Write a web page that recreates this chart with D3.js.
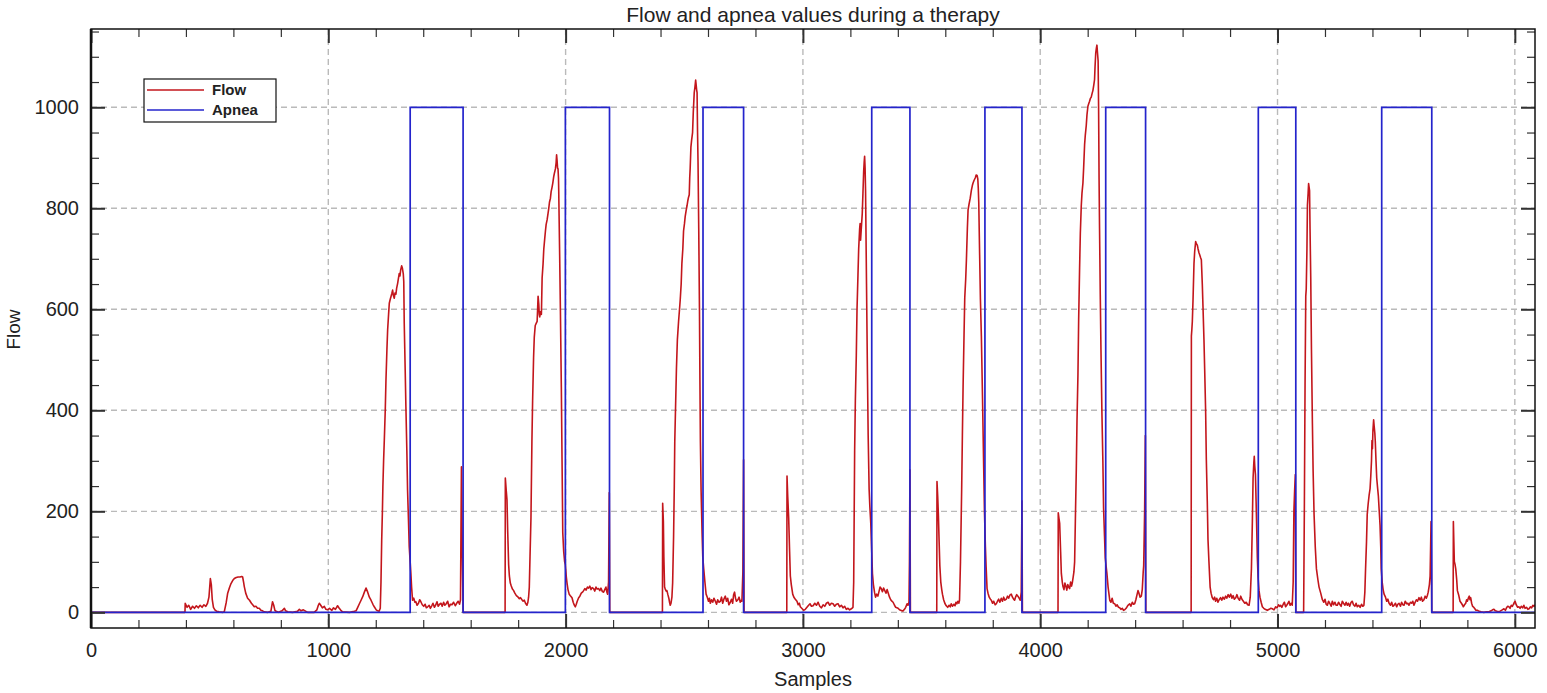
<!DOCTYPE html>
<html>
<head>
<meta charset="utf-8">
<script src="https://cdn.jsdelivr.net/npm/d3@7/dist/d3.min.js"></script>
<style>
  html, body { margin: 0; padding: 0; background: #fff; }
  svg { display: block; }
  text { font-family: "Liberation Sans", Arial, sans-serif; fill: #222; }
</style>
</head>
<body>
<svg id="chart" width="1547" height="693"></svg>
<script>
// ---- data ----------------------------------------------------------------
const chartTitle = "Flow and apnea values during a therapy";
const xLabel = "Samples";
const yLabel = "Flow";
const legendLabels = ["Flow", "Apnea"];
const xMajorTicks = [0, 1000, 2000, 3000, 4000, 5000, 6000];
const yMajorTicks = [0, 200, 400, 600, 800, 1000];

// apnea flag: corner points of the square wave [sample, value]
const apneaSeries = [
  [0,0],[1345,0],[1345,1000],[1568,1000],[1568,0],
  [1999,0],[1999,1000],[2185,1000],[2185,0],
  [2579,0],[2579,1000],[2750,1000],[2750,0],
  [3290,0],[3290,1000],[3451,1000],[3451,0],
  [3767,0],[3767,1000],[3923,1000],[3923,0],
  [4276,0],[4276,1000],[4444,1000],[4444,0],
  [4919,0],[4919,1000],[5077,1000],[5077,0],
  [5439,0],[5439,1000],[5650,1000],[5650,0],
  [6085,0]
];

// measured flow [sample, flow]
const flowSeries = [
  [0,0],[396,0],[397,18],[405,10],[412,14],[420,6],[428,12],[436,8],[444,13],[452,9],[460,14],[468,10],[476,15],[484,12],[491,18],[497,30],[503,67],[507,55],[511,25],[516,10],[522,5],[530,2],[540,1],[556,0],[562,2],[570,20],[576,38],[583,48],[590,57],[597,63],[604,67],[612,69],[620,70],[628,70],[635,71],[639,70],[643,60],[646,51],[652,38],[660,28],[668,24],[676,18],[683,14],[688,11],[695,12],[702,8],[709,8],[716,4],[723,3],[730,1],[745,0],[758,2],[765,21],[770,14],[775,4],[780,2],[790,0],[805,3],[815,8],[820,3],[829,1],[850,0],[870,2],[878,6],[885,3],[895,5],[913,0],[940,0],[952,5],[958,14],[962,18],[968,14],[975,9],[983,12],[990,6],[997,5],[1005,8],[1015,4],[1022,9],[1030,6],[1039,13],[1046,8],[1053,4],[1060,1],[1090,0],[1110,2],[1117,3],[1124,10],[1131,17],[1138,24],[1145,31],[1152,40],[1159,48],[1166,40],[1173,30],[1180,24],[1188,16],[1195,10],[1202,5],[1208,3],[1214,2],[1219,8],[1222,60],[1225,143],[1228,200],[1230,249],[1233,300],[1236,341],[1240,400],[1243,460],[1247,520],[1250,559],[1254,590],[1257,612],[1261,620],[1264,625],[1268,632],[1271,638],[1274,628],[1278,622],[1281,632],[1285,630],[1288,642],[1292,651],[1295,660],[1299,671],[1302,666],[1305,678],[1309,686],[1312,682],[1316,670],[1318,655],[1320,572],[1324,480],[1327,407],[1331,320],[1334,242],[1338,180],[1341,130],[1345,100],[1348,77],[1351,50],[1355,24],[1360,28],[1365,20],[1369,21],[1374,14],[1380,18],[1385,25],[1390,21],[1396,15],[1402,12],[1408,16],[1413,9],[1419,11],[1425,14],[1430,8],[1436,13],[1441,18],[1447,10],[1452,14],[1458,21],[1463,12],[1469,16],[1475,18],[1480,12],[1486,20],[1491,14],[1497,17],[1503,22],[1509,11],[1515,16],[1521,15],[1528,20],[1535,13],[1541,18],[1547,22],[1553,16],[1557,25],[1561,288],[1564,150],[1568,0],
  [1745,0],[1746,266],[1750,240],[1753,223],[1756,160],[1760,94],[1763,72],[1767,58],[1771,52],[1776,46],[1781,43],[1786,38],[1790,35],[1795,32],[1800,30],[1805,27],[1810,29],[1816,25],[1821,22],[1826,24],[1831,18],[1837,14],[1841,20],[1844,30],[1847,50],[1850,110],[1854,187],[1858,338],[1861,420],[1865,504],[1868,545],[1872,568],[1876,572],[1880,576],[1882,600],[1884,626],[1887,610],[1889,590],[1891,585],[1894,595],[1898,590],[1901,662],[1905,690],[1908,719],[1912,740],[1915,755],[1918,768],[1922,777],[1926,790],[1929,800],[1932,812],[1936,820],[1939,833],[1943,842],[1946,850],[1950,863],[1953,870],[1957,878],[1960,890],[1962,906],[1964,895],[1966,880],[1968,878],[1970,860],[1971,835],[1973,770],[1975,705],[1978,600],[1982,446],[1985,300],[1988,158],[1992,120],[1996,100],[1999,94],[2003,70],[2006,58],[2010,45],[2015,36],[2020,33],[2027,29],[2032,20],[2036,15],[2041,11],[2045,16],[2049,22],[2055,29],[2060,32],[2066,38],[2071,40],[2076,43],[2081,47],[2086,44],[2092,50],[2097,48],[2102,52],[2107,45],[2112,49],[2118,47],[2123,42],[2128,50],[2133,46],[2139,47],[2144,43],[2149,48],[2155,41],[2160,40],[2165,45],[2170,50],[2174,40],[2177,36],[2181,60],[2184,237],[2186,0],
  [2408,0],[2409,216],[2412,180],[2414,110],[2417,50],[2420,46],[2424,42],[2427,43],[2431,35],[2435,28],[2438,20],[2441,14],[2444,18],[2448,30],[2451,58],[2455,150],[2458,250],[2460,338],[2464,420],[2467,482],[2471,540],[2476,576],[2480,600],[2483,619],[2487,650],[2490,691],[2494,720],[2497,755],[2501,770],[2504,784],[2508,796],[2512,806],[2515,815],[2518,822],[2521,827],[2523,860],[2525,880],[2528,921],[2531,935],[2535,950],[2538,990],[2542,1029],[2545,1040],[2548,1054],[2550,1045],[2552,1035],[2554,1029],[2556,950],[2558,892],[2561,760],[2564,604],[2566,460],[2568,338],[2571,240],[2575,158],[2578,110],[2582,86],[2587,60],[2592,36],[2597,30],[2602,22],[2606,28],[2610,18],[2615,25],[2620,20],[2625,28],[2631,22],[2636,16],[2641,25],[2646,20],[2652,22],[2657,30],[2662,18],[2667,26],[2673,32],[2678,22],[2683,28],[2688,15],[2694,20],[2699,26],[2704,18],[2708,35],[2712,40],[2716,28],[2720,22],[2726,25],[2731,30],[2736,20],[2740,24],[2743,22],[2747,80],[2750,302],[2752,0],
  [2932,0],[2933,270],[2936,230],[2940,187],[2944,120],[2947,72],[2951,55],[2957,36],[2962,30],[2968,26],[2975,22],[2980,15],[2985,18],[2989,11],[2995,8],[3003,4],[3010,6],[3017,10],[3024,14],[3030,17],[3036,12],[3043,13],[3050,18],[3057,14],[3064,20],[3071,12],[3078,9],[3085,15],[3092,12],[3099,18],[3106,20],[3113,14],[3120,18],[3127,17],[3134,12],[3141,16],[3148,17],[3155,11],[3162,14],[3169,9],[3176,12],[3183,6],[3190,8],[3197,5],[3204,7],[3211,10],[3214,60],[3218,320],[3221,420],[3225,509],[3228,600],[3232,668],[3235,720],[3239,759],[3241,770],[3243,737],[3246,760],[3250,789],[3253,830],[3256,873],[3258,890],[3260,903],[3262,880],[3264,835],[3268,650],[3272,471],[3275,350],[3279,244],[3282,210],[3286,176],[3290,120],[3293,77],[3297,55],[3302,39],[3306,30],[3311,36],[3316,32],[3320,40],[3325,50],[3330,47],[3335,41],[3340,48],[3345,43],[3350,38],[3355,45],[3359,39],[3365,30],[3370,25],[3375,22],[3380,20],[3386,14],[3391,10],[3396,9],[3401,8],[3407,5],[3412,4],[3417,3],[3422,3],[3428,6],[3433,10],[3439,17],[3443,14],[3447,20],[3449,100],[3451,282],[3453,0],
  [3564,0],[3565,259],[3568,230],[3571,191],[3574,140],[3577,92],[3581,60],[3585,45],[3588,36],[3593,25],[3598,18],[3604,13],[3610,10],[3616,14],[3621,11],[3625,17],[3630,12],[3636,16],[3641,13],[3645,20],[3649,17],[3653,22],[3657,18],[3660,24],[3664,100],[3669,244],[3672,350],[3675,448],[3679,550],[3682,623],[3686,660],[3689,698],[3693,760],[3696,797],[3700,808],[3705,820],[3710,836],[3714,845],[3717,850],[3721,855],[3724,858],[3727,861],[3730,866],[3734,865],[3737,858],[3739,840],[3741,812],[3745,700],[3748,620],[3752,547],[3757,420],[3762,282],[3765,200],[3769,130],[3772,90],[3776,47],[3780,38],[3785,30],[3790,26],[3794,24],[3799,18],[3804,22],[3810,15],[3815,17],[3820,22],[3825,26],[3830,20],[3836,28],[3841,22],[3846,30],[3851,24],[3857,26],[3862,32],[3867,28],[3872,34],[3878,36],[3883,30],[3888,26],[3892,24],[3896,30],[3901,35],[3906,32],[3911,28],[3916,24],[3920,40],[3923,221],[3925,0],
  [4075,0],[4076,197],[4079,186],[4082,176],[4086,120],[4089,77],[4093,60],[4096,51],[4100,45],[4104,58],[4108,52],[4112,44],[4116,55],[4120,50],[4124,47],[4128,60],[4132,52],[4135,58],[4139,70],[4142,80],[4145,100],[4148,180],[4152,282],[4155,380],[4159,471],[4162,580],[4166,683],[4169,750],[4173,805],[4176,830],[4180,850],[4183,880],[4187,926],[4190,945],[4194,964],[4197,985],[4201,1002],[4205,1008],[4208,1012],[4211,1017],[4215,1020],[4219,1028],[4222,1033],[4226,1045],[4229,1055],[4231,1080],[4234,1108],[4237,1118],[4239,1123],[4241,1110],[4244,1092],[4246,1000],[4248,858],[4250,760],[4253,630],[4256,520],[4260,395],[4264,300],[4267,206],[4271,150],[4274,108],[4278,90],[4281,77],[4286,50],[4293,24],[4298,20],[4303,28],[4308,18],[4314,17],[4319,12],[4324,15],[4330,10],[4335,9],[4340,6],[4346,8],[4351,4],[4356,5],[4362,8],[4367,12],[4372,15],[4377,17],[4382,12],[4388,20],[4393,16],[4398,17],[4403,25],[4408,35],[4412,43],[4416,38],[4421,30],[4426,32],[4430,45],[4434,80],[4436,92],[4440,200],[4443,350],[4445,0],
  [4636,0],[4637,547],[4639,560],[4641,576],[4644,620],[4648,691],[4651,715],[4655,734],[4658,730],[4662,727],[4665,720],[4669,712],[4672,708],[4676,702],[4679,698],[4683,650],[4686,604],[4690,540],[4693,482],[4697,400],[4700,302],[4704,220],[4707,144],[4711,100],[4716,50],[4720,38],[4725,29],[4730,25],[4735,30],[4739,22],[4744,28],[4749,20],[4754,25],[4760,29],[4765,24],[4770,30],[4776,26],[4781,32],[4786,28],[4792,35],[4797,30],[4803,36],[4808,28],[4813,33],[4818,26],[4824,29],[4829,35],[4834,28],[4840,24],[4845,32],[4850,26],[4856,22],[4862,18],[4868,20],[4874,15],[4880,14],[4885,30],[4890,86],[4894,180],[4897,266],[4900,295],[4902,309],[4904,290],[4907,273],[4911,194],[4915,108],[4918,70],[4922,43],[4926,30],[4931,20],[4936,11],[4942,8],[4948,6],[4957,4],[4965,6],[4972,8],[4978,7],[4985,5],[4992,11],[4998,9],[5004,15],[5009,12],[5013,14],[5018,10],[5024,16],[5029,20],[5034,11],[5040,15],[5044,18],[5048,22],[5053,14],[5058,18],[5062,14],[5066,60],[5069,201],[5072,240],[5075,273],[5077,0],
  [5110,0],[5113,200],[5116,450],[5119,626],[5121,640],[5124,720],[5126,806],[5129,830],[5131,849],[5133,842],[5135,835],[5137,760],[5140,662],[5143,520],[5147,374],[5150,280],[5154,194],[5159,130],[5164,86],[5170,65],[5175,50],[5182,38],[5189,25],[5195,20],[5200,26],[5205,16],[5210,14],[5215,22],[5220,18],[5226,12],[5231,22],[5236,15],[5242,20],[5247,14],[5252,14],[5257,20],[5262,16],[5268,12],[5273,22],[5278,18],[5284,14],[5289,20],[5294,14],[5299,18],[5304,12],[5310,20],[5315,22],[5320,15],[5326,12],[5331,18],[5336,11],[5342,14],[5348,10],[5354,16],[5359,12],[5364,14],[5368,40],[5371,86],[5375,140],[5378,194],[5382,215],[5386,232],[5390,245],[5393,270],[5396,300],[5398,340],[5400,324],[5402,360],[5405,381],[5407,370],[5410,355],[5412,338],[5415,300],[5418,266],[5422,245],[5425,230],[5428,205],[5432,173],[5435,130],[5437,86],[5441,60],[5445,45],[5449,36],[5455,30],[5460,22],[5465,26],[5470,18],[5476,14],[5481,20],[5486,12],[5491,14],[5497,18],[5502,11],[5507,16],[5512,18],[5518,12],[5523,20],[5528,15],[5533,14],[5538,22],[5544,17],[5549,18],[5554,14],[5560,20],[5565,18],[5570,22],[5575,14],[5580,20],[5585,25],[5590,22],[5596,29],[5601,24],[5606,30],[5611,22],[5617,25],[5622,32],[5627,28],[5631,33],[5635,40],[5640,55],[5643,72],[5647,180],[5650,0],
  [5740,0],[5741,180],[5743,140],[5745,101],[5748,95],[5751,86],[5755,65],[5758,43],[5763,35],[5769,22],[5775,18],[5780,14],[5783,11],[5788,15],[5793,18],[5797,25],[5800,22],[5804,28],[5808,32],[5811,25],[5814,29],[5818,18],[5822,12],[5825,11],[5830,8],[5836,4],[5842,4],[5850,2],[5858,1],[5870,0],[5880,1],[5891,1],[5900,3],[5906,5],[5912,6],[5918,3],[5925,2],[5933,1],[5940,3],[5947,5],[5954,7],[5960,4],[5965,9],[5970,12],[5975,11],[5980,8],[5985,14],[5990,12],[5996,18],[6001,22],[6006,15],[6012,10],[6017,11],[6022,8],[6027,12],[6033,9],[6038,14],[6043,8],[6049,10],[6055,6],[6060,7],[6066,11],[6071,9],[6076,14],[6081,12],[6085,15]
];

// ---- layout --------------------------------------------------------------
const plot = { left: 91, right: 1535, top: 29, bottom: 628 };
const xDomain = [0, 6085];
const yDomain = [-31, 1155];
const flowColor = "#c3161c";
const apneaColor = "#2424cc";

const svg = d3.select("#chart");
const x = d3.scaleLinear().domain(xDomain).range([plot.left, plot.right]);
const y = d3.scaleLinear().domain(yDomain).range([plot.bottom, plot.top]);

svg.append("defs").append("clipPath").attr("id", "plot-clip")
  .append("rect")
  .attr("x", plot.left).attr("y", plot.top)
  .attr("width", plot.right - plot.left).attr("height", plot.bottom - plot.top);

// dashed grid
const grid = svg.append("g").attr("stroke", "#bababa").attr("stroke-width", 1.4)
  .attr("stroke-dasharray", "6,4").attr("fill", "none");
grid.selectAll("line.v").data(xMajorTicks.filter(d => d > 0)).join("line")
  .attr("class", "v")
  .attr("x1", d => x(d)).attr("x2", d => x(d))
  .attr("y1", plot.top).attr("y2", plot.bottom);
grid.selectAll("line.h").data(yMajorTicks).join("line")
  .attr("class", "h")
  .attr("y1", d => y(d)).attr("y2", d => y(d))
  .attr("x1", plot.left).attr("x2", plot.right);

// series
const line = d3.line().x(d => x(d[0])).y(d => y(d[1]));
const series = svg.append("g").attr("clip-path", "url(#plot-clip)");
series.append("path").datum(flowSeries)
  .attr("fill", "none").attr("stroke", flowColor).attr("stroke-width", 1.6)
  .attr("stroke-linejoin", "round").attr("d", line);
series.append("path").datum(apneaSeries)
  .attr("fill", "none").attr("stroke", apneaColor).attr("stroke-width", 1.7)
  .attr("d", line);

// axes with inward ticks on all four sides
const xMinor = d3.range(0, 6001, 200).filter(d => d % 1000 !== 0);
const yMinor = d3.range(0, 1151, 50).filter(d => d % 200 !== 0);

function styleAxis(g) {
  g.select(".domain").remove();
  g.selectAll(".tick line").attr("stroke", "#333");
}

function addAxis(axisFn, scale, transform, major, minor, majorLen, minorLen, labels, pad) {
  svg.append("g").attr("transform", transform)
    .call(axisFn(scale).tickValues(minor).tickSize(-minorLen).tickFormat(""))
    .call(styleAxis)
    .call(g => g.selectAll(".tick line").attr("stroke-width", 1.2));
  const g = svg.append("g").attr("transform", transform)
    .call(axisFn(scale).tickValues(major).tickSize(-majorLen).tickPadding(pad)
      .tickFormat(labels ? d3.format("d") : ""))
    .call(styleAxis)
    .call(g => g.selectAll(".tick line").attr("stroke-width", 2));
  g.selectAll("text").style("font-size", "20px").attr("fill", "#222")
    .style("font-family", '"Liberation Sans", Arial, sans-serif');
  return g;
}

addAxis(d3.axisBottom, x, `translate(0,${plot.bottom})`, xMajorTicks, xMinor, 14, 8, true, 15);
addAxis(d3.axisTop, x, `translate(0,${plot.top})`, xMajorTicks, xMinor, 14, 8, false, 0);
addAxis(d3.axisLeft, y, `translate(${plot.left},0)`, yMajorTicks, yMinor, 14, 8, true, 12);
addAxis(d3.axisRight, y, `translate(${plot.right},0)`, yMajorTicks, yMinor, 14, 8, false, 0);

// frame
svg.append("rect")
  .attr("x", plot.left).attr("y", plot.top)
  .attr("width", plot.right - plot.left).attr("height", plot.bottom - plot.top)
  .attr("fill", "none").attr("stroke", "#111").attr("stroke-width", 1.5);
svg.append("line")
  .attr("x1", plot.left).attr("x2", plot.left)
  .attr("y1", plot.top).attr("y2", plot.bottom)
  .attr("stroke", "#111").attr("stroke-width", 2.5);

// titles
svg.append("text").attr("x", (plot.left + plot.right) / 2).attr("y", 22)
  .attr("text-anchor", "middle").style("font-size", "21px").text(chartTitle);
svg.append("text").attr("x", (plot.left + plot.right) / 2).attr("y", 686)
  .attr("text-anchor", "middle").style("font-size", "20px").text(xLabel);
svg.append("text")
  .attr("transform", `translate(20,${(plot.top + plot.bottom) / 2 + 1}) rotate(-90)`)
  .attr("text-anchor", "middle").style("font-size", "19px").text(yLabel);

// legend
const legend = svg.append("g").attr("transform", "translate(144,79)");
legend.append("rect").attr("width", 132).attr("height", 43)
  .attr("fill", "#fff").attr("stroke", "#111").attr("stroke-width", 1.2);
const legendColors = [flowColor, apneaColor];
const items = legend.selectAll("g.item").data(legendLabels).join("g")
  .attr("class", "item")
  .attr("transform", (d, i) => `translate(0,${11 + i * 20})`);
items.append("line").attr("x1", 3).attr("x2", 60)
  .attr("stroke", (d, i) => legendColors[i]).attr("stroke-width", 1.6);
items.append("text").attr("x", 68).attr("y", 5)
  .style("font-size", "15px").style("font-weight", "bold").attr("fill", "#1a1a2a")
  .text(d => d);
</script>
</body>
</html>
